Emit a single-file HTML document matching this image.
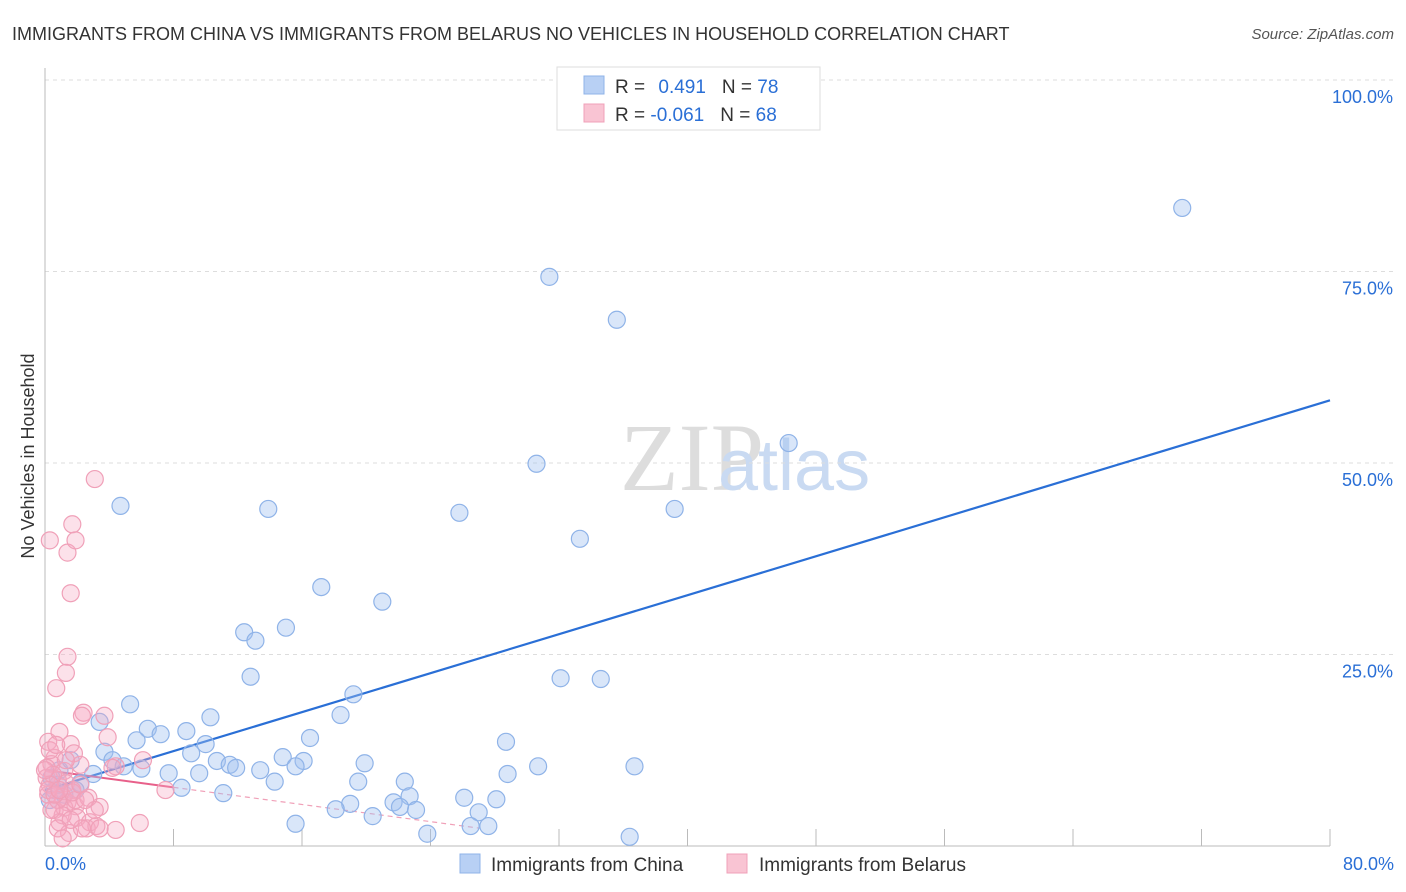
<!DOCTYPE html>
<html><head><meta charset="utf-8"><style>
body{margin:0;background:#fff;font-family:"Liberation Sans",sans-serif;}
svg{display:block}
</style></head><body>
<svg id="chart" width="1406" height="892" xmlns="http://www.w3.org/2000/svg">
<text x="12" y="40" font-size="18" fill="#333">IMMIGRANTS FROM CHINA VS IMMIGRANTS FROM BELARUS NO VEHICLES IN HOUSEHOLD CORRELATION CHART</text>
<text x="1394" y="39" font-size="15" fill="#555" font-style="italic" text-anchor="end">Source: ZipAtlas.com</text>
<text x="620" y="490" font-size="96" fill="#ddd" font-family="Liberation Serif,serif">ZIP</text>
<text x="718" y="490" font-size="72" fill="#c9daf2">atlas</text>
<g id="grid"></g>
<g id="axes"></g>
<g id="trend"></g>
<g id="pts"></g>
<text transform="translate(34,456) rotate(-90)" font-size="18" fill="#333" text-anchor="middle">No Vehicles in Household</text>
<g>
<rect x="557" y="67" width="263" height="63" fill="#fff" stroke="#ddd"/>
<rect x="584" y="76" width="20" height="18" fill="#b8d0f4" stroke="#8fb3e8"/>
<rect x="584" y="104" width="20" height="18" fill="#f9c4d3" stroke="#f0a0b8"/>
<text x="615" y="93" font-size="19" fill="#333">R = <tspan fill="#2a6fd6" dx="8">0.491</tspan><tspan dx="16" fill="#333">N = </tspan><tspan fill="#2a6fd6">78</tspan></text>
<text x="615" y="121" font-size="19" fill="#333">R = <tspan fill="#2a6fd6">-0.061</tspan><tspan dx="16" fill="#333">N = </tspan><tspan fill="#2a6fd6">68</tspan></text>
</g>
<g>
<rect x="460" y="854" width="20" height="19" fill="#b8d0f4" stroke="#8fb3e8"/>
<text x="491" y="871" font-size="19" fill="#333">Immigrants from China</text>
<rect x="727" y="854" width="20" height="19" fill="#f9c4d3" stroke="#f0a0b8"/>
<text x="759" y="871" font-size="19" fill="#333">Immigrants from Belarus</text>
</g>
</svg>
<script>
const chinaX=[70.8,31.4,35.6,46.3,30.6,4.7,13.9,25.8,39.2,33.3,17.2,21.0,12.4,15.0,13.1,12.8,32.1,34.6,19.2,5.3,3.4,18.4,10.3,6.4,8.8,7.2,5.7,16.5,10.0,28.7,9.1,3.7,10.7,4.2,14.8,16.1,19.9,11.5,11.9,30.7,36.7,4.9,6.0,3.0,7.7,9.6,13.4,15.6,28.8,19.5,22.4,14.3,8.5,11.1,2.2,0.9,1.6,0.6,0.3,22.7,26.1,28.1,21.7,19.0,18.1,22.1,23.1,20.4,27.0,26.5,27.6,15.6,23.8,36.4,1.2,1.9,0.8,0.4];
const chinaY=[83.3,74.3,68.7,52.6,49.9,44.4,44.0,43.5,44.0,40.1,33.8,31.9,27.9,28.5,26.8,22.1,21.9,21.8,19.8,18.5,16.2,17.1,16.8,15.3,15.0,14.6,13.8,14.1,13.3,13.6,12.1,12.3,11.1,11.2,11.6,11.1,10.8,10.6,10.2,10.4,10.4,10.4,10.1,9.4,9.5,9.5,9.9,10.4,9.4,8.4,8.4,8.4,7.6,6.9,8.2,9.9,11.2,7.3,6.0,6.5,6.3,6.1,5.7,5.5,4.8,5.1,4.7,3.9,4.4,2.6,2.6,2.9,1.6,1.2,6.7,7.3,8.0,8.9];
const belarusX=[3.1,0.3,1.7,1.4,1.6,1.9,1.4,1.3,0.7,2.4,2.3,3.7,3.9,0.9,0.2,1.6,1.8,0.6,0.4,0.1,1.2,2.2,6.1,4.4,0.1,0.8,1.3,1.7,0.2,1.1,1.4,1.9,0.6,1.2,3.4,2.0,2.8,2.6,3.2,5.9,4.4,0.9,1.5,2.3,7.5,0.5,0.3,0.8,1.1,0.4,1.9,2.7,1.6,0.8,3.4,1.1,1.7,2.2,0.3,0.7,1.3,0,0.2,3.1,2.5,0.6,0.9,4.2];
const belarusY=[47.9,39.9,42.0,38.3,33.0,39.9,24.7,22.6,20.6,17.4,17.0,17.0,14.2,14.9,13.6,13.3,12.1,11.5,10.7,10.2,9.8,10.6,11.2,10.4,8.9,8.6,8.2,7.3,6.7,6.4,5.7,5.2,4.7,5.0,5.1,3.7,3.1,2.3,2.6,3.0,2.1,3.1,1.7,2.3,7.3,9.3,8.0,6.0,4.0,4.7,6.0,6.3,3.4,2.3,2.3,1.0,7.0,8.0,12.5,13.2,11.2,9.9,7.3,4.7,6.0,6.7,7.3,10.2];
const yTicks=[25,50,75,100];
const xTickLabels=["0.0%","80.0%"];
const chinaTrend=[7.3,0.636];
const belarusTrend=[9.9,-0.28];
const NS="http://www.w3.org/2000/svg";
const X=v=>45+v*1285/80, Y=v=>846-v*7.66;
function mk(tag,attrs,parent){const e=document.createElementNS(NS,tag);for(const k in attrs)e.setAttribute(k,attrs[k]);parent.appendChild(e);return e;}
const grid=document.getElementById('grid'),axes=document.getElementById('axes');
yTicks.forEach(t=>{
 const l=mk('line',{x1:45,x2:1394,y1:Y(t),y2:Y(t),stroke:'#ddd','stroke-dasharray':'4,4'},grid);
 
 
 const tx=mk('text',{x:1393,y:Y(t)+23,'font-size':18,fill:'#2a6fd6','text-anchor':'end'},grid);
 tx.textContent=t.toFixed(1)+'%';
 
 
});
const ya=mk('line',{x1:45,x2:45,y1:68,y2:846,stroke:'#bbb'},axes);


const xa=mk('line',{x1:45,x2:1330,y1:846,y2:846,stroke:'#bbb'},axes);


for(let i=0;i<=10;i++){const v=i*8;const t=mk('line',{x1:X(v),x2:X(v),y1:829,y2:846,stroke:'#bbb'},axes);
 
 }
[[0,'start',45],[80,'end',1394]].forEach((d,i)=>{const t=mk('text',{x:d[2],y:870,'font-size':18,fill:'#2a6fd6','text-anchor':d[1]},axes);t.textContent=xTickLabels[i];
 
 });
const pts=document.getElementById('pts');
chinaX.forEach((x,i)=>{const c=mk('circle',{cx:X(x),cy:Y(chinaY[i]),r:8.5,fill:'rgba(160,192,240,0.4)',stroke:'#8fb3e8','stroke-width':1.2},pts);
 
 });
belarusX.forEach((x,i)=>{const c=mk('circle',{cx:X(x),cy:Y(belarusY[i]),r:8.5,fill:'rgba(245,170,195,0.35)',stroke:'#f0a0b8','stroke-width':1.2},pts);
 
 });
const tr=document.getElementById('trend');
const cl=mk('line',{x1:X(0),y1:Y(chinaTrend[0]),x2:X(80),y2:Y(chinaTrend[0]+80*chinaTrend[1]),stroke:'#2a6fd6','stroke-width':2.2},tr);


const bl=mk('line',{x1:X(0),y1:Y(belarusTrend[0]),x2:X(8),y2:Y(belarusTrend[0]+8*belarusTrend[1]),stroke:'#e8608a','stroke-width':2},tr);


const bd=mk('line',{x1:X(8),y1:Y(belarusTrend[0]+8*belarusTrend[1]),x2:X(27),y2:Y(belarusTrend[0]+27*belarusTrend[1]),stroke:'#f0a0b8','stroke-width':1.2,'stroke-dasharray':'5,4'},tr);


</script>
</body></html>
